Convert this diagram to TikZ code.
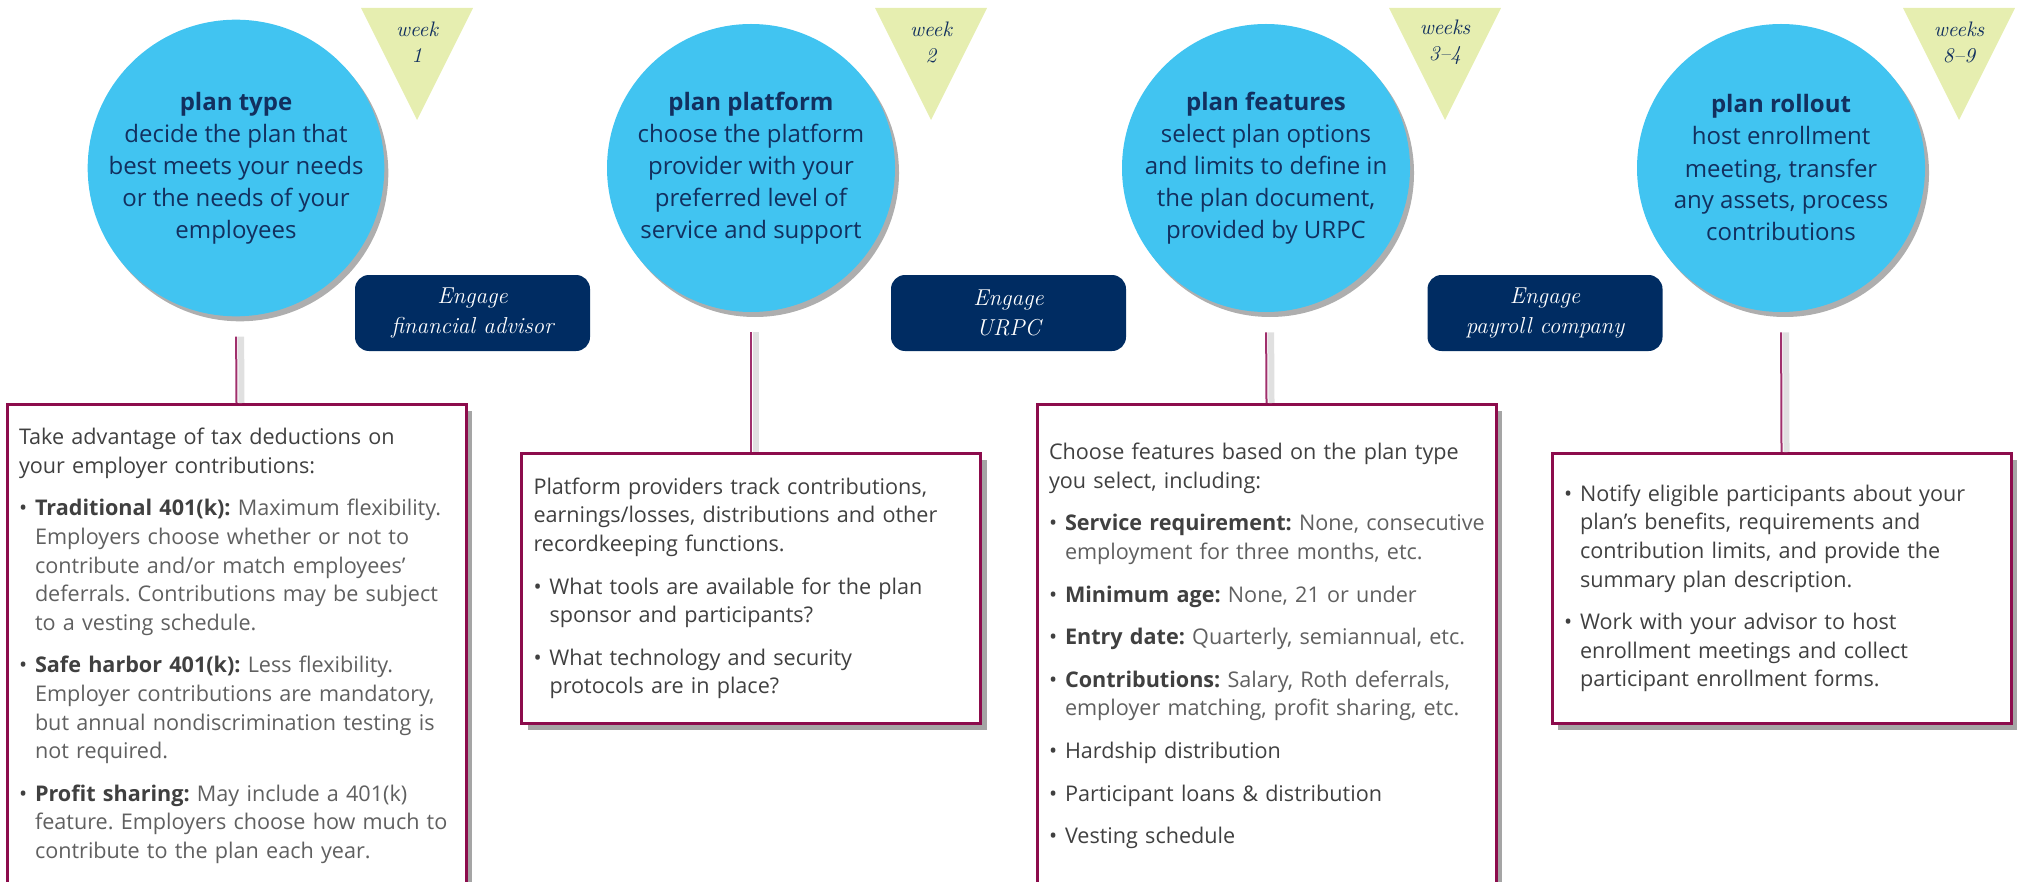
\documentclass[tikz,border=0pt]{standalone}
\usepackage{fontspec}
\setsansfont{Open Sans}
\usetikzlibrary{shadows}
\definecolor{skyfill}{HTML}{41C4F1}
\definecolor{navytext}{HTML}{12305F}
\definecolor{navybox}{HTML}{002C62}
\definecolor{weekfill}{HTML}{E6EEB0}
\definecolor{plum}{HTML}{8C0C4C}
\definecolor{linkplum}{HTML}{A0306C}
\definecolor{bodygray}{HTML}{404040}
\definecolor{softgray}{HTML}{606060}
\newcommand{\boxsetup}{\frenchspacing\hyphenpenalty10000\relax}
\newcommand{\bhead}{\hangindent=8pt\hangafter=1\noindent\makebox[8pt][l]{\textbullet}}
\newcommand{\bitem}{\par\vspace{7pt}\bhead}
\newcommand{\lbl}[1]{\textbf{#1}}
\newcommand{\soft}[1]{{\color{softgray}#1}}
\begin{document}
\begin{tikzpicture}[x=.5pt,y=-.5pt,
  stage/.style={circle, fill=skyfill, minimum size=144pt, inner sep=0pt, align=center, text=navytext,
    font=\sffamily\fontsize{12}{16}\selectfont,
    drop shadow={shadow xshift=2pt, shadow yshift=-2.5pt, fill=black!70, opacity=.45}},
  weektag/.style={text=navytext, align=center, inner sep=0pt, font=\rmfamily\itshape\fontsize{10.5}{13}\selectfont},
  engage/.style={rectangle, rounded corners=7pt, fill=navybox, text=white, minimum width=117.5pt,
    minimum height=38pt, align=center, font=\rmfamily\itshape\fontsize{11.5}{15}\selectfont},
  infobox/.style={rectangle, draw=plum, line width=1.5pt, fill=white, inner xsep=6pt, inner ysep=0pt,
    text width=217.5pt, align=left, anchor=north, text=bodygray,
    font=\sffamily\fontsize{10.8}{14.3}\selectfont\boxsetup,
    drop shadow={shadow xshift=3pt, shadow yshift=-3pt, fill=black!70, opacity=.5}},
  link/.style={draw=linkplum, line width=1pt, shorten <=10pt,
    preaction={draw=black!12, line width=3pt, transform canvas={xshift=2.5pt}}}]

  \clip (0,0) rectangle (2021,882);

  \fill[weekfill] (361,8) -- (473,8) -- (417,120) -- cycle;
  \fill[weekfill] (875,8) -- (987,8) -- (931,120) -- cycle;
  \fill[weekfill] (1389,8) -- (1501,8) -- (1445,120) -- cycle;
  \fill[weekfill] (1903,8) -- (2015,8) -- (1959,120) -- cycle;
  \node[weektag] (w1) at (417,42) {week\\1};
  \node[weektag] (w2) at (931,42) {week\\2};
  \node[weektag] (w3) at (1445,42) {weeks\\3--4};
  \node[weektag] (w4) at (1959,42) {weeks\\8--9};

  \node[stage] (c1) at (236,168) {\textbf{plan type}\\decide the plan that\\best meets your needs\\or the needs of your\\employees};
  \node[stage] (c2) at (751,168) {\textbf{plan platform}\\choose the platform\\provider with your\\preferred level of\\service and support};
  \node[stage] (c3) at (1266,168) {\textbf{plan features}\\select plan options\\and limits to define in\\the plan document,\\provided by URPC};
  \node[stage] (c4) at (1781,168) {\textbf{plan rollout}\\host enrollment\\meeting, transfer\\any assets, process\\contributions};

  \node[engage] (e1) at (472.5,313) {Engage\\financial advisor};
  \node[engage] (e2) at (1008.5,313) {Engage\\URPC};
  \node[engage] (e3) at (1545,313) {Engage\\payroll company};

  \node[infobox, minimum height=241.5pt] (t1) at (236.5,403) {Take advantage of tax deductions on\newline your employer contributions:
    \bitem\lbl{Traditional 401(k):} \soft{Maximum flexibility.\newline Employers choose whether or not to\newline contribute and/or match employees’\newline deferrals. Contributions may be subject\newline to a vesting schedule.}
    \bitem\lbl{Safe harbor 401(k):} \soft{Less flexibility.\newline Employer contributions are mandatory,\newline but annual nondiscrimination testing is\newline not required.}
    \bitem\lbl{Profit sharing:} \soft{May include a 401(k)\newline feature. Employers choose how much to\newline contribute to the plan each year.}\par};
  \node[infobox, minimum height=135pt] (t2) at (751,452) {Platform providers track contributions,\newline earnings/losses, distributions and other\newline recordkeeping functions.
    \bitem What tools are available for the plan\newline sponsor and participants?
    \bitem What technology and security\newline protocols are in place?\par};
  \node[infobox, minimum height=241.5pt] (t3) at (1266.5,403) {Choose features based on the plan type\newline you select, including:
    \bitem\mbox{\lbl{Service requirement:} \soft{None, consecutive}}\newline\soft{employment for three months, etc.}
    \bitem\lbl{Minimum age:} \soft{None, 21 or under}
    \bitem\lbl{Entry date:} \soft{Quarterly, semiannual, etc.}
    \bitem\lbl{Contributions:} \soft{Salary, Roth deferrals,\newline employer matching, profit sharing, etc.}
    \bitem Hardship distribution
    \bitem Participant loans \& distribution
    \bitem Vesting schedule\par};
  \node[infobox, minimum height=135pt] (t4) at (1781.5,452) {\bhead Notify eligible participants about your\newline plan’s benefits, requirements and\newline contribution limits, and provide the\newline summary plan description.
    \bitem Work with your advisor to host\newline enrollment meetings and collect\newline participant enrollment forms.\par};

  \draw[link] (c1.south) -- (t1.north);
  \draw[link] (c2.south) -- (t2.north);
  \draw[link] (c3.south) -- (t3.north);
  \draw[link] (c4.south) -- (t4.north);
\end{tikzpicture}
\end{document}
